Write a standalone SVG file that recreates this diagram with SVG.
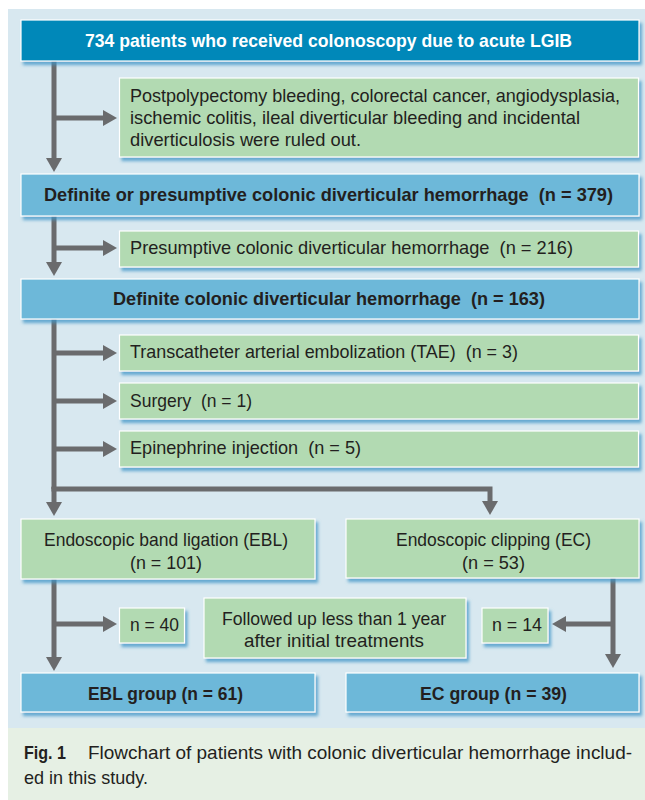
<svg xmlns="http://www.w3.org/2000/svg" width="645" height="800" viewBox="0 0 645 800">
<defs>
<filter id="sh" x="-5%" y="-20%" width="115%" height="160%">
<feDropShadow dx="2.5" dy="3.5" stdDeviation="1.6" flood-color="#3d94c6" flood-opacity="0.75"/>
</filter>
<marker id="ah" viewBox="0 0 14 16" refX="1" refY="8" markerWidth="14" markerHeight="16" orient="auto" markerUnits="userSpaceOnUse">
<path d="M0,0 L14,8 L0,16 z" fill="#6a6b6d"/>
</marker>
<style>
.dark{fill:#0088b9;stroke:#ffffff;stroke-width:1.2;filter:url(#sh)}
.blue{fill:#6db8d9;stroke:#ffffff;stroke-width:1.2;filter:url(#sh)}
.green{fill:#b2dab2;stroke:#ffffff;stroke-width:1.2;filter:url(#sh)}
text{font-family:"Liberation Sans",Arial,sans-serif;font-size:18.5px;fill:#231f20}
.b{font-weight:bold}
.w{fill:#ffffff;font-weight:bold}
.c{fill:none;stroke:#6a6b6d;stroke-width:5}
.ca{fill:none;stroke:#6a6b6d;stroke-width:5;marker-end:url(#ah)}
</style>
</defs>
<rect x="8" y="9" width="637" height="719" fill="#d8e8f0"/>
<rect x="8" y="728" width="637" height="72" fill="#e6f0e4"/>

<g id="connectors">
<path class="c" d="M54,61 V118"/>
<path class="ca" d="M54,118 V159"/>
<path class="ca" d="M54,118 H104"/>
<path class="c" d="M54,216 V248"/>
<path class="ca" d="M54,248 V263"/>
<path class="ca" d="M54,248 H104"/>
<path class="c" d="M54,319 V489"/>
<path class="ca" d="M54,353 H104"/>
<path class="ca" d="M54,401 H104"/>
<path class="ca" d="M54,449 H104"/>
<path class="ca" d="M54,487 V503"/>
<path class="ca" d="M51.5,489 H490 V502"/>
<path class="c" d="M54,579 V624"/>
<path class="ca" d="M54,624 V658"/>
<path class="ca" d="M54,624 H104"/>
<path class="c" d="M613,578 V624"/>
<path class="ca" d="M613,624 V655"/>
<path class="ca" d="M613,624 H565"/>
</g>

<g id="n-top">
<rect class="dark" x="21" y="20" width="618" height="41"/>
<text class="w" x="85" y="47" textLength="487" lengthAdjust="spacingAndGlyphs">734 patients who received colonoscopy due to acute LGIB</text>
</g>
<g id="n-ruledout">
<rect class="green" x="119.5" y="78" width="519" height="79"/>
<text x="130" y="102" textLength="490" lengthAdjust="spacingAndGlyphs">Postpolypectomy bleeding, colorectal cancer, angiodysplasia,</text>
<text x="130" y="124" textLength="450" lengthAdjust="spacingAndGlyphs">ischemic colitis, ileal diverticular bleeding and incidental</text>
<text x="130" y="146" textLength="231" lengthAdjust="spacingAndGlyphs">diverticulosis were ruled out.</text>
</g>
<g id="n-379">
<rect class="blue" x="21" y="174" width="618" height="42"/>
<text class="b" x="44" y="201" textLength="569" lengthAdjust="spacingAndGlyphs" xml:space="preserve">Definite or presumptive colonic diverticular hemorrhage  (n = 379)</text>
</g>
<g id="n-216">
<rect class="green" x="119.5" y="231" width="519" height="36"/>
<text x="130" y="254" textLength="443" lengthAdjust="spacingAndGlyphs" xml:space="preserve">Presumptive colonic diverticular hemorrhage  (n = 216)</text>
</g>
<g id="n-163">
<rect class="blue" x="21" y="279" width="618" height="40"/>
<text class="b" x="113" y="305" textLength="432" lengthAdjust="spacingAndGlyphs" xml:space="preserve">Definite colonic diverticular hemorrhage  (n = 163)</text>
</g>
<g id="n-tae">
<rect class="green" x="119.5" y="335" width="519" height="36"/>
<text x="130" y="358" textLength="388" lengthAdjust="spacingAndGlyphs" xml:space="preserve">Transcatheter arterial embolization (TAE)  (n = 3)</text>
</g>
<g id="n-surgery">
<rect class="green" x="119.5" y="383" width="519" height="36"/>
<text x="130" y="407" textLength="122" lengthAdjust="spacingAndGlyphs" xml:space="preserve">Surgery  (n = 1)</text>
</g>
<g id="n-epi">
<rect class="green" x="119.5" y="431" width="519" height="36"/>
<text x="130" y="454" textLength="231" lengthAdjust="spacingAndGlyphs" xml:space="preserve">Epinephrine injection  (n = 5)</text>
</g>
<g id="n-ebl">
<rect class="green" x="21" y="519" width="294" height="60"/>
<text x="44" y="546" textLength="244" lengthAdjust="spacingAndGlyphs">Endoscopic band ligation (EBL)</text>
<text x="130" y="569" textLength="72" lengthAdjust="spacingAndGlyphs">(n = 101)</text>
</g>
<g id="n-ec">
<rect class="green" x="346" y="519" width="293" height="59"/>
<text x="396" y="546" textLength="195" lengthAdjust="spacingAndGlyphs">Endoscopic clipping (EC)</text>
<text x="462" y="569" textLength="63" lengthAdjust="spacingAndGlyphs">(n = 53)</text>
</g>
<g id="n-40">
<rect class="green" x="119.5" y="608" width="65" height="35"/>
<text x="130" y="631" textLength="49" lengthAdjust="spacingAndGlyphs">n = 40</text>
</g>
<g id="n-followed">
<rect class="green" x="204" y="598" width="262" height="60"/>
<text x="222" y="625" textLength="224" lengthAdjust="spacingAndGlyphs">Followed up less than 1 year</text>
<text x="244" y="647" textLength="180" lengthAdjust="spacingAndGlyphs">after initial treatments</text>
</g>
<g id="n-14">
<rect class="green" x="482" y="608" width="66" height="35"/>
<text x="492" y="631" textLength="50" lengthAdjust="spacingAndGlyphs">n = 14</text>
</g>
<g id="n-eblgroup">
<rect class="blue" x="21" y="673" width="294" height="39"/>
<text class="b" x="88" y="700" textLength="155" lengthAdjust="spacingAndGlyphs">EBL group (n = 61)</text>
</g>
<g id="n-ecgroup">
<rect class="blue" x="346" y="673" width="293" height="39"/>
<text class="b" x="420" y="700" textLength="147" lengthAdjust="spacingAndGlyphs">EC group (n = 39)</text>
</g>
<g id="caption">
<text class="b" x="24" y="759" textLength="42" lengthAdjust="spacingAndGlyphs">Fig. 1</text>
<text x="88" y="759" textLength="544" lengthAdjust="spacingAndGlyphs">Flowchart of patients with colonic diverticular hemorrhage includ-</text>
<text x="24" y="784" textLength="124" lengthAdjust="spacingAndGlyphs">ed in this study.</text>
</g>
</svg>
